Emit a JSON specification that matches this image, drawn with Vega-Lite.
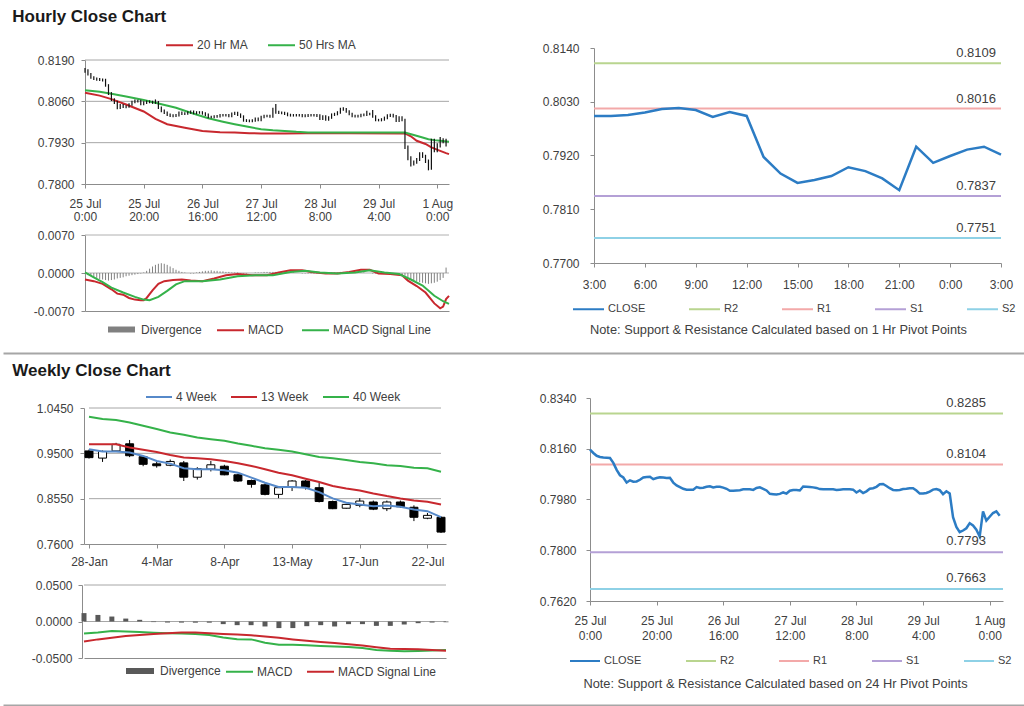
{
"$schema": "https://vega.github.io/schema/vega-lite/v6.json",
"background": "white",
"padding": {"top": 8, "left": 0, "right": 0, "bottom": 2},
"spacing": 9,
"config": {
  "view": {"stroke": null},
  "font": "Liberation Sans",
  "axis": {"labelFont": "Liberation Sans", "labelFontSize": 12, "labelColor": "#404040", "domainColor": "#8c8c8c", "tickColor": "#8c8c8c", "grid": false, "tickSize": 4, "labelFlush": false, "labelOverlap": false, "titleFont": "Liberation Sans"},
  "legend": {"labelFont": "Liberation Sans", "labelFontSize": 12, "labelColor": "#404040", "padding": 0, "labelOffset": 3, "symbolType": "stroke", "symbolStrokeWidth": 2}
},
"datasets": {
  "hourly": [
    {"i":0,"c":0.8157,"h":0.8165,"l":0.8150,"d":-0.0002},
    {"i":1,"c":0.8145,"h":0.8161,"l":0.8141,"d":-0.0004},
    {"i":2,"c":0.8135,"h":0.8149,"l":0.8131,"d":-0.0006},
    {"i":3,"c":0.8131,"h":0.8139,"l":0.8127,"d":-0.0008},
    {"i":4,"c":0.8129,"h":0.8135,"l":0.8125,"d":-0.0009},
    {"i":5,"c":0.8128,"h":0.8133,"l":0.8124,"d":-0.0011},
    {"i":6,"c":0.8127,"h":0.8132,"l":0.8122,"d":-0.0012},
    {"i":7,"c":0.8110,"h":0.8131,"l":0.8106,"d":-0.0013},
    {"i":8,"c":0.8085,"h":0.8114,"l":0.8080,"d":-0.0014},
    {"i":9,"c":0.8066,"h":0.8089,"l":0.8061,"d":-0.0013},
    {"i":10,"c":0.8058,"h":0.8070,"l":0.8052,"d":-0.0012},
    {"i":11,"c":0.8040,"h":0.8062,"l":0.8035,"d":-0.0010},
    {"i":12,"c":0.8048,"h":0.8052,"l":0.8036,"d":-0.0009},
    {"i":13,"c":0.8043,"h":0.8052,"l":0.8039,"d":-0.0008},
    {"i":14,"c":0.8044,"h":0.8048,"l":0.8038,"d":-0.0006},
    {"i":15,"c":0.8050,"h":0.8054,"l":0.8040,"d":-0.0005},
    {"i":16,"c":0.8058,"h":0.8062,"l":0.8046,"d":-0.0004},
    {"i":17,"c":0.8060,"h":0.8066,"l":0.8054,"d":-0.0003},
    {"i":18,"c":0.8061,"h":0.8065,"l":0.8056,"d":-0.0002},
    {"i":19,"c":0.8052,"h":0.8065,"l":0.8048,"d":-0.0001},
    {"i":20,"c":0.8056,"h":0.8060,"l":0.8048,"d":0.0001},
    {"i":21,"c":0.8059,"h":0.8063,"l":0.8052,"d":0.0004},
    {"i":22,"c":0.8058,"h":0.8063,"l":0.8054,"d":0.0008},
    {"i":23,"c":0.8056,"h":0.8062,"l":0.8052,"d":0.0012},
    {"i":24,"c":0.8057,"h":0.8066,"l":0.8052,"d":0.0015},
    {"i":25,"c":0.8040,"h":0.8061,"l":0.8036,"d":0.0017},
    {"i":26,"c":0.8030,"h":0.8044,"l":0.8026,"d":0.0018},
    {"i":27,"c":0.8024,"h":0.8034,"l":0.8020,"d":0.0017},
    {"i":28,"c":0.8018,"h":0.8028,"l":0.8014,"d":0.0015},
    {"i":29,"c":0.8015,"h":0.8022,"l":0.8011,"d":0.0012},
    {"i":30,"c":0.8015,"h":0.8019,"l":0.8010,"d":0.0009},
    {"i":31,"c":0.8015,"h":0.8020,"l":0.8011,"d":0.0006},
    {"i":32,"c":0.8024,"h":0.8028,"l":0.8012,"d":0.0004},
    {"i":33,"c":0.8021,"h":0.8028,"l":0.8017,"d":0.0002},
    {"i":34,"c":0.8022,"h":0.8026,"l":0.8017,"d":0.0001},
    {"i":35,"c":0.8025,"h":0.8029,"l":0.8018,"d":0.0000},
    {"i":36,"c":0.8027,"h":0.8031,"l":0.8021,"d":-0.0001},
    {"i":37,"c":0.8023,"h":0.8031,"l":0.8019,"d":-0.0001},
    {"i":38,"c":0.8025,"h":0.8029,"l":0.8019,"d":0.0001},
    {"i":39,"c":0.8025,"h":0.8029,"l":0.8021,"d":0.0002},
    {"i":40,"c":0.8022,"h":0.8029,"l":0.8018,"d":0.0003},
    {"i":41,"c":0.8018,"h":0.8026,"l":0.8014,"d":0.0004},
    {"i":42,"c":0.8011,"h":0.8022,"l":0.8007,"d":0.0004},
    {"i":43,"c":0.8011,"h":0.8015,"l":0.8007,"d":0.0005},
    {"i":44,"c":0.8012,"h":0.8016,"l":0.8007,"d":0.0004},
    {"i":45,"c":0.8013,"h":0.8017,"l":0.8008,"d":0.0004},
    {"i":46,"c":0.8016,"h":0.8020,"l":0.8009,"d":0.0003},
    {"i":47,"c":0.8016,"h":0.8020,"l":0.8012,"d":0.0003},
    {"i":48,"c":0.8016,"h":0.8020,"l":0.8012,"d":0.0002},
    {"i":49,"c":0.8014,"h":0.8020,"l":0.8010,"d":0.0002},
    {"i":50,"c":0.8021,"h":0.8025,"l":0.8010,"d":0.0001},
    {"i":51,"c":0.8023,"h":0.8027,"l":0.8017,"d":0.0001},
    {"i":52,"c":0.8018,"h":0.8027,"l":0.8014,"d":0.0001},
    {"i":53,"c":0.8012,"h":0.8022,"l":0.8008,"d":-0.0001},
    {"i":54,"c":0.8000,"h":0.8016,"l":0.7996,"d":-0.0001},
    {"i":55,"c":0.7999,"h":0.8004,"l":0.7995,"d":-0.0001},
    {"i":56,"c":0.7998,"h":0.8003,"l":0.7994,"d":0.0000},
    {"i":57,"c":0.8000,"h":0.8004,"l":0.7994,"d":0.0000},
    {"i":58,"c":0.8005,"h":0.8009,"l":0.7996,"d":0.0001},
    {"i":59,"c":0.8001,"h":0.8009,"l":0.7997,"d":0.0001},
    {"i":60,"c":0.8011,"h":0.8015,"l":0.7997,"d":0.0001},
    {"i":61,"c":0.8014,"h":0.8018,"l":0.8007,"d":0.0002},
    {"i":62,"c":0.8014,"h":0.8018,"l":0.8010,"d":0.0002},
    {"i":63,"c":0.8012,"h":0.8018,"l":0.8008,"d":0.0002},
    {"i":64,"c":0.8026,"h":0.8040,"l":0.8008,"d":0.0002},
    {"i":65,"c":0.8025,"h":0.8052,"l":0.8021,"d":0.0002},
    {"i":66,"c":0.8024,"h":0.8030,"l":0.8020,"d":0.0002},
    {"i":67,"c":0.8023,"h":0.8028,"l":0.8019,"d":0.0001},
    {"i":68,"c":0.8021,"h":0.8027,"l":0.8017,"d":0.0001},
    {"i":69,"c":0.8017,"h":0.8025,"l":0.8013,"d":0.0001},
    {"i":70,"c":0.8016,"h":0.8021,"l":0.8012,"d":0.0001},
    {"i":71,"c":0.8016,"h":0.8020,"l":0.8012,"d":0.0001},
    {"i":72,"c":0.8016,"h":0.8020,"l":0.8012,"d":0.0000},
    {"i":73,"c":0.8016,"h":0.8020,"l":0.8012,"d":0.0000},
    {"i":74,"c":0.8014,"h":0.8020,"l":0.8010,"d":-0.0001},
    {"i":75,"c":0.8015,"h":0.8019,"l":0.8010,"d":-0.0001},
    {"i":76,"c":0.8016,"h":0.8020,"l":0.8011,"d":-0.0001},
    {"i":77,"c":0.8016,"h":0.8020,"l":0.8012,"d":-0.0001},
    {"i":78,"c":0.8016,"h":0.8020,"l":0.8012,"d":-0.0001},
    {"i":79,"c":0.8015,"h":0.8020,"l":0.8011,"d":-0.0001},
    {"i":80,"c":0.8005,"h":0.8019,"l":0.8001,"d":-0.0001},
    {"i":81,"c":0.8012,"h":0.8016,"l":0.8001,"d":0.0000},
    {"i":82,"c":0.8003,"h":0.8016,"l":0.7999,"d":0.0000},
    {"i":83,"c":0.8009,"h":0.8013,"l":0.7999,"d":0.0001},
    {"i":84,"c":0.8018,"h":0.8022,"l":0.8005,"d":0.0001},
    {"i":85,"c":0.8020,"h":0.8024,"l":0.8014,"d":0.0001},
    {"i":86,"c":0.8025,"h":0.8029,"l":0.8016,"d":0.0001},
    {"i":87,"c":0.8034,"h":0.8040,"l":0.8021,"d":0.0002},
    {"i":88,"c":0.8035,"h":0.8041,"l":0.8030,"d":0.0002},
    {"i":89,"c":0.8028,"h":0.8039,"l":0.8024,"d":0.0001},
    {"i":90,"c":0.8020,"h":0.8032,"l":0.8016,"d":0.0001},
    {"i":91,"c":0.8014,"h":0.8024,"l":0.8010,"d":0.0000},
    {"i":92,"c":0.8013,"h":0.8018,"l":0.8009,"d":0.0000},
    {"i":93,"c":0.8014,"h":0.8018,"l":0.8009,"d":0.0000},
    {"i":94,"c":0.8017,"h":0.8021,"l":0.8010,"d":0.0001},
    {"i":95,"c":0.8018,"h":0.8022,"l":0.8013,"d":0.0001},
    {"i":96,"c":0.8020,"h":0.8030,"l":0.8014,"d":0.0000},
    {"i":97,"c":0.8020,"h":0.8024,"l":0.8016,"d":0.0000},
    {"i":98,"c":0.8012,"h":0.8033,"l":0.8008,"d":-0.0001},
    {"i":99,"c":0.8001,"h":0.8016,"l":0.7997,"d":-0.0001},
    {"i":100,"c":0.8001,"h":0.8005,"l":0.7997,"d":-0.0001},
    {"i":101,"c":0.8003,"h":0.8007,"l":0.7997,"d":-0.0001},
    {"i":102,"c":0.8008,"h":0.8012,"l":0.7999,"d":-0.0001},
    {"i":103,"c":0.8015,"h":0.8019,"l":0.8004,"d":0.0000},
    {"i":104,"c":0.8017,"h":0.8021,"l":0.8011,"d":-0.0001},
    {"i":105,"c":0.8013,"h":0.8021,"l":0.8009,"d":-0.0001},
    {"i":106,"c":0.7999,"h":0.8017,"l":0.7995,"d":-0.0001},
    {"i":107,"c":0.8009,"h":0.8013,"l":0.7995,"d":-0.0002},
    {"i":108,"c":0.8001,"h":0.8013,"l":0.7997,"d":-0.0003},
    {"i":109,"c":0.7917,"h":0.8005,"l":0.7910,"d":-0.0005},
    {"i":110,"c":0.7883,"h":0.7921,"l":0.7875,"d":-0.0008},
    {"i":111,"c":0.7864,"h":0.7887,"l":0.7855,"d":-0.0011},
    {"i":112,"c":0.7870,"h":0.7874,"l":0.7858,"d":-0.0013},
    {"i":113,"c":0.7878,"h":0.7882,"l":0.7864,"d":-0.0015},
    {"i":114,"c":0.7896,"h":0.7900,"l":0.7872,"d":-0.0017},
    {"i":115,"c":0.7888,"h":0.7900,"l":0.7882,"d":-0.0018},
    {"i":116,"c":0.7873,"h":0.7892,"l":0.7866,"d":-0.0019},
    {"i":117,"c":0.7849,"h":0.7877,"l":0.7843,"d":-0.0020},
    {"i":118,"c":0.7938,"h":0.7942,"l":0.7845,"d":-0.0019},
    {"i":119,"c":0.7905,"h":0.7942,"l":0.7900,"d":-0.0018},
    {"i":120,"c":0.7919,"h":0.7928,"l":0.7900,"d":-0.0016},
    {"i":121,"c":0.7932,"h":0.7948,"l":0.7915,"d":-0.0013},
    {"i":122,"c":0.7938,"h":0.7944,"l":0.7928,"d":-0.0009},
    {"i":123,"c":0.7922,"h":0.7942,"l":0.7918,"d":0.0010}
  ],
  "hma": [
    {"s":"20 Hr MA","i":0,"v":0.8087},{"s":"20 Hr MA","i":5,"v":0.8078},{"s":"20 Hr MA","i":9,"v":0.8067},{"s":"20 Hr MA","i":14,"v":0.8050},{"s":"20 Hr MA","i":20,"v":0.8028},{"s":"20 Hr MA","i":24,"v":0.8005},{"s":"20 Hr MA","i":28,"v":0.7988},{"s":"20 Hr MA","i":34,"v":0.7977},{"s":"20 Hr MA","i":40,"v":0.7967},{"s":"20 Hr MA","i":46,"v":0.7963},{"s":"20 Hr MA","i":51,"v":0.7962},{"s":"20 Hr MA","i":56,"v":0.7960},{"s":"20 Hr MA","i":60,"v":0.7959},{"s":"20 Hr MA","i":68,"v":0.7959},{"s":"20 Hr MA","i":75,"v":0.7960},{"s":"20 Hr MA","i":90,"v":0.7960},{"s":"20 Hr MA","i":109,"v":0.7959},{"s":"20 Hr MA","i":111,"v":0.7950},{"s":"20 Hr MA","i":113,"v":0.7936},{"s":"20 Hr MA","i":116,"v":0.7926},{"s":"20 Hr MA","i":118,"v":0.7915},{"s":"20 Hr MA","i":121,"v":0.7904},{"s":"20 Hr MA","i":123,"v":0.7897},{"s":"20 Hr MA","i":124,"v":0.7894},
    {"s":"50 Hrs MA","i":0,"v":0.8095},{"s":"50 Hrs MA","i":5,"v":0.8090},{"s":"50 Hrs MA","i":9,"v":0.8084},{"s":"50 Hrs MA","i":14,"v":0.8075},{"s":"50 Hrs MA","i":20,"v":0.8064},{"s":"50 Hrs MA","i":25,"v":0.8053},{"s":"50 Hrs MA","i":31,"v":0.8040},{"s":"50 Hrs MA","i":36,"v":0.8024},{"s":"50 Hrs MA","i":42,"v":0.8007},{"s":"50 Hrs MA","i":47,"v":0.7996},{"s":"50 Hrs MA","i":51,"v":0.7988},{"s":"50 Hrs MA","i":56,"v":0.7979},{"s":"50 Hrs MA","i":60,"v":0.7972},{"s":"50 Hrs MA","i":64,"v":0.7969},{"s":"50 Hrs MA","i":68,"v":0.7967},{"s":"50 Hrs MA","i":72,"v":0.7964},{"s":"50 Hrs MA","i":76,"v":0.7962},{"s":"50 Hrs MA","i":109,"v":0.7962},{"s":"50 Hrs MA","i":112,"v":0.7954},{"s":"50 Hrs MA","i":115,"v":0.7946},{"s":"50 Hrs MA","i":117,"v":0.7941},{"s":"50 Hrs MA","i":119,"v":0.7938},{"s":"50 Hrs MA","i":121,"v":0.7936},{"s":"50 Hrs MA","i":124,"v":0.7933}
  ],
  "hmacd": [
    {"s":"MACD","i":0,"v":-0.0012},{"s":"MACD","i":3,"v":-0.0015},{"s":"MACD","i":6,"v":-0.0020},{"s":"MACD","i":9,"v":-0.0030},{"s":"MACD","i":11,"v":-0.0038},{"s":"MACD","i":13,"v":-0.0040},{"s":"MACD","i":15,"v":-0.0046},{"s":"MACD","i":17,"v":-0.0049},{"s":"MACD","i":19,"v":-0.0050},{"s":"MACD","i":20,"v":-0.0050},{"s":"MACD","i":21,"v":-0.0046},{"s":"MACD","i":23,"v":-0.0032},{"s":"MACD","i":25,"v":-0.0020},{"s":"MACD","i":27,"v":-0.0015},{"s":"MACD","i":30,"v":-0.0013},{"s":"MACD","i":33,"v":-0.0012},{"s":"MACD","i":36,"v":-0.0014},{"s":"MACD","i":40,"v":-0.0015},{"s":"MACD","i":44,"v":-0.0010},{"s":"MACD","i":48,"v":-0.0004},{"s":"MACD","i":52,"v":-0.0002},{"s":"MACD","i":57,"v":-0.0004},{"s":"MACD","i":62,"v":-0.0004},{"s":"MACD","i":66,"v":0.0001},{"s":"MACD","i":70,"v":0.0005},{"s":"MACD","i":74,"v":0.0005},{"s":"MACD","i":77,"v":0.0002},{"s":"MACD","i":82,"v":-0.0001},{"s":"MACD","i":86,"v":-0.0001},{"s":"MACD","i":90,"v":0.0002},{"s":"MACD","i":94,"v":0.0006},{"s":"MACD","i":97,"v":0.0006},{"s":"MACD","i":100,"v":-0.0001},{"s":"MACD","i":104,"v":-0.0002},{"s":"MACD","i":108,"v":-0.0004},{"s":"MACD","i":110,"v":-0.0014},{"s":"MACD","i":113,"v":-0.0024},{"s":"MACD","i":116,"v":-0.0036},{"s":"MACD","i":119,"v":-0.0056},{"s":"MACD","i":121,"v":-0.0065},{"s":"MACD","i":122,"v":-0.0062},{"s":"MACD","i":123,"v":-0.0048},{"s":"MACD","i":124,"v":-0.0042},
    {"s":"MACD Signal Line","i":0,"v":0.0001},{"s":"MACD Signal Line","i":3,"v":-0.0008},{"s":"MACD Signal Line","i":6,"v":-0.0017},{"s":"MACD Signal Line","i":9,"v":-0.0027},{"s":"MACD Signal Line","i":13,"v":-0.0036},{"s":"MACD Signal Line","i":17,"v":-0.0044},{"s":"MACD Signal Line","i":20,"v":-0.0049},{"s":"MACD Signal Line","i":22,"v":-0.0050},{"s":"MACD Signal Line","i":25,"v":-0.0044},{"s":"MACD Signal Line","i":28,"v":-0.0033},{"s":"MACD Signal Line","i":31,"v":-0.0021},{"s":"MACD Signal Line","i":34,"v":-0.0015},{"s":"MACD Signal Line","i":40,"v":-0.0015},{"s":"MACD Signal Line","i":46,"v":-0.0012},{"s":"MACD Signal Line","i":52,"v":-0.0006},{"s":"MACD Signal Line","i":58,"v":-0.0004},{"s":"MACD Signal Line","i":64,"v":-0.0004},{"s":"MACD Signal Line","i":70,"v":0.0002},{"s":"MACD Signal Line","i":75,"v":0.0004},{"s":"MACD Signal Line","i":80,"v":0.0001},{"s":"MACD Signal Line","i":86,"v":-0.0001},{"s":"MACD Signal Line","i":92,"v":0.0001},{"s":"MACD Signal Line","i":97,"v":0.0005},{"s":"MACD Signal Line","i":102,"v":0.0001},{"s":"MACD Signal Line","i":107,"v":-0.0002},{"s":"MACD Signal Line","i":111,"v":-0.0012},{"s":"MACD Signal Line","i":115,"v":-0.0023},{"s":"MACD Signal Line","i":119,"v":-0.0042},{"s":"MACD Signal Line","i":122,"v":-0.0052},{"s":"MACD Signal Line","i":124,"v":-0.0057}
  ],
  "piv1": [{"s":"R2","v":0.8109},{"s":"R1","v":0.8016},{"s":"S1","v":0.7837},{"s":"S2","v":0.7751}],
  "piv24": [{"s":"R2","v":0.8285},{"s":"R1","v":0.8104},{"s":"S1","v":0.7793},{"s":"S2","v":0.7663}],
  "weekly": [
    {"k":0,"o":0.955,"h":0.958,"l":0.939,"c":0.941,"d":0.0115},
    {"k":1,"o":0.940,"h":0.956,"l":0.932,"c":0.954,"d":0.0090},
    {"k":2,"o":0.955,"h":0.972,"l":0.953,"c":0.969,"d":0.0068},
    {"k":3,"o":0.970,"h":0.978,"l":0.942,"c":0.945,"d":0.0040},
    {"k":4,"o":0.943,"h":0.945,"l":0.923,"c":0.927,"d":0.0023},
    {"k":5,"o":0.928,"h":0.932,"l":0.920,"c":0.924,"d":-0.0008},
    {"k":6,"o":0.925,"h":0.937,"l":0.923,"c":0.933,"d":-0.0014},
    {"k":7,"o":0.930,"h":0.934,"l":0.892,"c":0.900,"d":-0.0015},
    {"k":8,"o":0.900,"h":0.921,"l":0.895,"c":0.918,"d":-0.0016},
    {"k":9,"o":0.917,"h":0.934,"l":0.912,"c":0.926,"d":-0.0016},
    {"k":10,"o":0.923,"h":0.926,"l":0.904,"c":0.905,"d":-0.0036},
    {"k":11,"o":0.905,"h":0.907,"l":0.890,"c":0.892,"d":-0.0050},
    {"k":12,"o":0.893,"h":0.895,"l":0.878,"c":0.885,"d":-0.0050},
    {"k":13,"o":0.884,"h":0.887,"l":0.862,"c":0.864,"d":-0.0068},
    {"k":14,"o":0.864,"h":0.880,"l":0.856,"c":0.878,"d":-0.0090},
    {"k":15,"o":0.879,"h":0.894,"l":0.871,"c":0.892,"d":-0.0090},
    {"k":16,"o":0.892,"h":0.894,"l":0.874,"c":0.879,"d":-0.0064},
    {"k":17,"o":0.878,"h":0.888,"l":0.847,"c":0.849,"d":-0.0050},
    {"k":18,"o":0.849,"h":0.851,"l":0.833,"c":0.834,"d":-0.0068},
    {"k":19,"o":0.835,"h":0.844,"l":0.834,"c":0.843,"d":-0.0036},
    {"k":20,"o":0.841,"h":0.856,"l":0.837,"c":0.850,"d":-0.0036},
    {"k":21,"o":0.848,"h":0.851,"l":0.831,"c":0.833,"d":-0.0060},
    {"k":22,"o":0.834,"h":0.851,"l":0.829,"c":0.848,"d":-0.0060},
    {"k":23,"o":0.848,"h":0.851,"l":0.836,"c":0.838,"d":-0.0041},
    {"k":24,"o":0.837,"h":0.841,"l":0.808,"c":0.816,"d":-0.0023},
    {"k":25,"o":0.814,"h":0.825,"l":0.812,"c":0.820,"d":-0.0014},
    {"k":26,"o":0.816,"h":0.818,"l":0.783,"c":0.785,"d":-0.0010}
  ],
  "wma": [
    {"s":"4 Week","k":0,"v":0.9587},{"s":"4 Week","k":1,"v":0.9537},{"s":"4 Week","k":2,"v":0.9537},{"s":"4 Week","k":3,"v":0.9516},{"s":"4 Week","k":4,"v":0.9446},{"s":"4 Week","k":5,"v":0.9340},{"s":"4 Week","k":6,"v":0.9285},{"s":"4 Week","k":7,"v":0.9186},{"s":"4 Week","k":8,"v":0.9165},{"s":"4 Week","k":9,"v":0.9165},{"s":"4 Week","k":10,"v":0.9144},{"s":"4 Week","k":11,"v":0.9095},{"s":"4 Week","k":12,"v":0.8990},{"s":"4 Week","k":13,"v":0.8884},{"s":"4 Week","k":14,"v":0.8793},{"s":"4 Week","k":15,"v":0.8793},{"s":"4 Week","k":16,"v":0.8780},{"s":"4 Week","k":17,"v":0.8688},{"s":"4 Week","k":18,"v":0.8555},{"s":"4 Week","k":19,"v":0.8463},{"s":"4 Week","k":20,"v":0.8430},{"s":"4 Week","k":21,"v":0.8390},{"s":"4 Week","k":22,"v":0.8407},{"s":"4 Week","k":23,"v":0.8380},{"s":"4 Week","k":24,"v":0.8323},{"s":"4 Week","k":25,"v":0.8288},{"s":"4 Week","k":26,"v":0.8162},
    {"s":"13 Week","k":0,"v":0.9692},{"s":"13 Week","k":1,"v":0.9692},{"s":"13 Week","k":2,"v":0.9692},{"s":"13 Week","k":3,"v":0.9622},{"s":"13 Week","k":4,"v":0.9573},{"s":"13 Week","k":5,"v":0.9530},{"s":"13 Week","k":6,"v":0.9467},{"s":"13 Week","k":7,"v":0.9411},{"s":"13 Week","k":8,"v":0.9397},{"s":"13 Week","k":9,"v":0.9375},{"s":"13 Week","k":10,"v":0.9340},{"s":"13 Week","k":11,"v":0.9292},{"s":"13 Week","k":12,"v":0.9236},{"s":"13 Week","k":13,"v":0.9165},{"s":"13 Week","k":14,"v":0.9095},{"s":"13 Week","k":15,"v":0.9039},{"s":"13 Week","k":16,"v":0.8969},{"s":"13 Week","k":17,"v":0.8899},{"s":"13 Week","k":18,"v":0.8814},{"s":"13 Week","k":19,"v":0.8765},{"s":"13 Week","k":20,"v":0.8723},{"s":"13 Week","k":21,"v":0.8660},{"s":"13 Week","k":22,"v":0.8604},{"s":"13 Week","k":23,"v":0.8555},{"s":"13 Week","k":24,"v":0.8513},{"s":"13 Week","k":25,"v":0.8484},{"s":"13 Week","k":26,"v":0.8428},
    {"s":"40 Week","k":0,"v":1.0267},{"s":"40 Week","k":1,"v":1.0218},{"s":"40 Week","k":2,"v":1.0197},{"s":"40 Week","k":3,"v":1.0148},{"s":"40 Week","k":4,"v":1.0078},{"s":"40 Week","k":5,"v":1.0008},{"s":"40 Week","k":6,"v":0.9937},{"s":"40 Week","k":7,"v":0.9888},{"s":"40 Week","k":8,"v":0.9832},{"s":"40 Week","k":9,"v":0.9797},{"s":"40 Week","k":10,"v":0.9762},{"s":"40 Week","k":11,"v":0.9706},{"s":"40 Week","k":12,"v":0.9657},{"s":"40 Week","k":13,"v":0.9607},{"s":"40 Week","k":14,"v":0.9573},{"s":"40 Week","k":15,"v":0.9537},{"s":"40 Week","k":16,"v":0.9481},{"s":"40 Week","k":17,"v":0.9425},{"s":"40 Week","k":18,"v":0.9397},{"s":"40 Week","k":19,"v":0.9362},{"s":"40 Week","k":20,"v":0.9320},{"s":"40 Week","k":21,"v":0.9292},{"s":"40 Week","k":22,"v":0.9250},{"s":"40 Week","k":23,"v":0.9236},{"s":"40 Week","k":24,"v":0.9200},{"s":"40 Week","k":25,"v":0.9186},{"s":"40 Week","k":26,"v":0.9116}
  ],
  "wmacd": [
    {"s":"MACD","k":0,"v":-0.0165},{"s":"MACD","k":1,"v":-0.0150},{"s":"MACD","k":2,"v":-0.0130},{"s":"MACD","k":3,"v":-0.0138},{"s":"MACD","k":4,"v":-0.0145},{"s":"MACD","k":5,"v":-0.0155},{"s":"MACD","k":6,"v":-0.0162},{"s":"MACD","k":7,"v":-0.0165},{"s":"MACD","k":8,"v":-0.0172},{"s":"MACD","k":9,"v":-0.0185},{"s":"MACD","k":10,"v":-0.0220},{"s":"MACD","k":11,"v":-0.0242},{"s":"MACD","k":12,"v":-0.0245},{"s":"MACD","k":13,"v":-0.0290},{"s":"MACD","k":14,"v":-0.0318},{"s":"MACD","k":15,"v":-0.0318},{"s":"MACD","k":16,"v":-0.0326},{"s":"MACD","k":17,"v":-0.0336},{"s":"MACD","k":18,"v":-0.0342},{"s":"MACD","k":19,"v":-0.0350},{"s":"MACD","k":20,"v":-0.0362},{"s":"MACD","k":21,"v":-0.0390},{"s":"MACD","k":22,"v":-0.0402},{"s":"MACD","k":23,"v":-0.0408},{"s":"MACD","k":24,"v":-0.0405},{"s":"MACD","k":25,"v":-0.0398},{"s":"MACD","k":26,"v":-0.0392},
    {"s":"MACD Signal Line","k":0,"v":-0.0275},{"s":"MACD Signal Line","k":1,"v":-0.0245},{"s":"MACD Signal Line","k":2,"v":-0.0222},{"s":"MACD Signal Line","k":3,"v":-0.0200},{"s":"MACD Signal Line","k":4,"v":-0.0186},{"s":"MACD Signal Line","k":5,"v":-0.0172},{"s":"MACD Signal Line","k":6,"v":-0.0160},{"s":"MACD Signal Line","k":7,"v":-0.0152},{"s":"MACD Signal Line","k":8,"v":-0.0152},{"s":"MACD Signal Line","k":9,"v":-0.0160},{"s":"MACD Signal Line","k":10,"v":-0.0170},{"s":"MACD Signal Line","k":11,"v":-0.0178},{"s":"MACD Signal Line","k":12,"v":-0.0190},{"s":"MACD Signal Line","k":13,"v":-0.0205},{"s":"MACD Signal Line","k":14,"v":-0.0222},{"s":"MACD Signal Line","k":15,"v":-0.0245},{"s":"MACD Signal Line","k":16,"v":-0.0265},{"s":"MACD Signal Line","k":17,"v":-0.0282},{"s":"MACD Signal Line","k":18,"v":-0.0296},{"s":"MACD Signal Line","k":19,"v":-0.0312},{"s":"MACD Signal Line","k":20,"v":-0.0330},{"s":"MACD Signal Line","k":21,"v":-0.0352},{"s":"MACD Signal Line","k":22,"v":-0.0372},{"s":"MACD Signal Line","k":23,"v":-0.0378},{"s":"MACD Signal Line","k":24,"v":-0.0380},{"s":"MACD Signal Line","k":25,"v":-0.0390},{"s":"MACD Signal Line","k":26,"v":-0.0400}
  ]
},
"vconcat": [
 {
  "title": {"text": "Hourly Close Chart", "anchor": "start", "dx": 12, "fontSize": 17, "fontWeight": "bold", "font": "Liberation Sans", "color": "#1a1a1a", "offset": 3},
  "width": 1024, "height": 324,
  "resolve": {"scale": {"x": "independent", "y": "independent", "color": "independent", "stroke": "independent"}, "axis": {"x": "independent", "y": "independent"}, "legend": {"color": "independent", "stroke": "independent"}},
  "layer": [
   {"layer": [
     {"data": {"values": [{"g":0.793},{"g":0.806},{"g":0.819}]},
      "mark": {"type": "rule", "color": "#a6a6a6", "strokeWidth": 1},
      "encoding": {
        "x": {"datum": 0, "type": "quantitative", "scale": {"domain": [0,124], "range": [82,446]},
              "axis": {"orient": "bottom", "offset": -169, "values": [0,20,40,60,80,100,120], "labelExpr": "[['25 Jul','0:00'],['25 Jul','20:00'],['26 Jul','16:00'],['27 Jul','12:00'],['28 Jul','8:00'],['29 Jul','4:00'],['1 Aug','0:00']][datum.value/20]", "labelLineHeight": 13.5, "labelPadding": 10, "title": null}},
        "x2": {"datum": 124},
        "y": {"field": "g", "type": "quantitative", "scale": {"domain": [0.78,0.819], "range": [155,31]},
              "axis": {"orient": "left", "offset": -82, "values": [0.78,0.793,0.806,0.819], "format": ".4f", "labelPadding": 7, "title": null}}
      }},
     {"data": {"name": "hma"},
      "mark": {"type": "line", "strokeWidth": 2},
      "encoding": {
        "x": {"field": "i", "type": "quantitative", "scale": {"domain": [0,124], "range": [82,446]}},
        "y": {"field": "v", "type": "quantitative", "scale": {"domain": [0.78,0.819], "range": [155,31]}},
        "color": {"field": "s", "type": "nominal", "scale": {"domain": ["20 Hr MA","50 Hrs MA"], "range": ["#c8282e","#35b24a"]},
                  "legend": {"orient": "none", "legendX": 162, "legendY": 1.5, "direction": "horizontal", "symbolSize": 729, "columnPadding": 16, "title": null}}
      }},
     {"data": {"name": "hourly"},
      "mark": {"type": "rule", "color": "#111111", "strokeWidth": 1.2},
      "encoding": {
        "x": {"field": "i", "type": "quantitative", "scale": {"domain": [0,124], "range": [82,446]}},
        "y": {"field": "l", "type": "quantitative", "scale": {"domain": [0.78,0.819], "range": [155,31]}},
        "y2": {"field": "h"}
      }}
   ]},
   {"layer": [
     {"data": {"values": [{"g":0},{"g":0.007}]},
      "mark": {"type": "rule", "color": "#b0b0b0", "strokeWidth": 1},
      "encoding": {
        "x": {"datum": 0, "type": "quantitative", "scale": {"domain": [0,124], "range": [82,446]},
              "axis": {"orient": "bottom", "offset": -42, "labels": false, "ticks": false, "title": null}},
        "x2": {"datum": 124},
        "y": {"field": "g", "type": "quantitative", "scale": {"domain": [-0.007,0.007], "range": [282,206]},
              "axis": {"orient": "left", "offset": -82, "values": [-0.007,0,0.007], "labelExpr": "datum.value<0?'-'+format(-datum.value,'.4f'):format(datum.value,'.4f')", "labelPadding": 7, "title": null}}
      }},
     {"data": {"name": "hourly"},
      "mark": {"type": "rule", "strokeWidth": 1},
      "encoding": {
        "x": {"field": "i", "type": "quantitative", "scale": {"domain": [0,124], "range": [82,446]}},
        "y": {"field": "d", "type": "quantitative", "scale": {"domain": [-0.007,0.007], "range": [282,206]}},
        "y2": {"datum": 0},
        "stroke": {"datum": "Divergence", "type": "nominal", "scale": {"domain": ["Divergence"], "range": ["#808080"]},
                   "legend": {"orient": "none", "legendX": 102, "legendY": 284, "direction": "horizontal", "symbolSize": 729, "symbolStrokeWidth": 6, "symbolStrokeColor": "#595959", "title": null}}
      }},
     {"data": {"name": "hmacd"},
      "mark": {"type": "line", "strokeWidth": 2},
      "encoding": {
        "x": {"field": "i", "type": "quantitative", "scale": {"domain": [0,124], "range": [82,446]}},
        "y": {"field": "v", "type": "quantitative", "scale": {"domain": [-0.007,0.007], "range": [282,206]}},
        "color": {"field": "s", "type": "nominal", "scale": {"domain": ["MACD","MACD Signal Line"], "range": ["#c8282e","#35b24a"]},
                  "legend": {"orient": "none", "legendX": 213, "legendY": 286.5, "direction": "horizontal", "symbolSize": 729, "columnPadding": 14, "title": null}}
      }}
   ]},
   {"layer": [
     {"data": {"name": "piv1"},
      "mark": {"type": "rule", "strokeWidth": 2},
      "encoding": {
        "x": {"datum": 99, "type": "quantitative", "scale": {"domain": [99,123], "range": [591,998]},
              "axis": {"orient": "bottom", "offset": -90, "values": [99,102,105,108,111,114,117,120,123], "labelExpr": "((datum.value-96)%24)+':00'", "labelPadding": 12,
                       "title": "Note: Support & Resistance Calculated based on 1 Hr Pivot Points", "titleX": 775, "titleY": 66, "titleAlign": "center", "titleBaseline": "middle", "titleFontSize": 12.8, "titleFontWeight": "normal", "titleColor": "#404040"}},
        "x2": {"datum": 123},
        "y": {"field": "v", "type": "quantitative", "scale": {"domain": [0.77,0.814], "range": [234,19]},
              "axis": {"orient": "left", "offset": -591, "values": [0.77,0.781,0.792,0.803,0.814], "format": ".4f", "labelPadding": 11, "title": null}},
        "color": {"field": "s", "type": "nominal", "scale": {"domain": ["CLOSE","R2","R1","S1","S2"], "range": ["#2c7cc4","#b9d58f","#f3a9a9","#b4a0d6","#8ed1e6"]},
                  "legend": {"orient": "none", "legendX": 569, "legendY": 263.5, "direction": "horizontal", "symbolSize": 961, "columnPadding": 39, "labelFontSize": 11, "title": null}}
      }},
     {"data": {"name": "hourly"},
      "transform": [{"filter": "datum.i >= 99"}],
      "mark": {"type": "line", "strokeWidth": 2.5},
      "encoding": {
        "x": {"field": "i", "type": "quantitative", "scale": {"domain": [99,123], "range": [591,998]}},
        "y": {"field": "c", "type": "quantitative", "scale": {"domain": [0.77,0.814], "range": [234,19]}},
        "color": {"datum": "CLOSE", "type": "nominal", "scale": {"domain": ["CLOSE","R2","R1","S1","S2"], "range": ["#2c7cc4","#b9d58f","#f3a9a9","#b4a0d6","#8ed1e6"]}}
      }},
     {"data": {"name": "piv1"},
      "mark": {"type": "text", "align": "right", "baseline": "middle", "dx": -5, "dy": -10, "fontSize": 13, "color": "#404040", "font": "Liberation Sans"},
      "encoding": {
        "x": {"datum": 123, "type": "quantitative", "scale": {"domain": [99,123], "range": [591,998]}},
        "y": {"field": "v", "type": "quantitative", "scale": {"domain": [0.77,0.814], "range": [234,19]}},
        "text": {"field": "v", "type": "quantitative", "format": ".4f"}
      }}
   ]},
   {"data": {"values": [{"z": 0}]},
    "mark": {"type": "point", "opacity": 0},
    "encoding": {
      "x": {"field": "z", "type": "quantitative", "scale": {"domain": [0,1], "range": [0,1024]},
            "axis": {"orient": "bottom", "offset": 0, "labels": false, "ticks": false, "domainColor": "#a6a6a6", "domainWidth": 2, "title": null}}
    }}
  ]
 },
 {
  "title": {"text": "Weekly Close Chart", "anchor": "start", "dx": 12, "fontSize": 17, "fontWeight": "bold", "font": "Liberation Sans", "color": "#1a1a1a", "offset": 3},
  "width": 1024, "height": 322,
  "resolve": {"scale": {"x": "independent", "y": "independent", "color": "independent", "stroke": "independent"}, "axis": {"x": "independent", "y": "independent"}, "legend": {"color": "independent", "stroke": "independent"}},
  "layer": [
   {"layer": [
     {"data": {"values": [{"g":0.855},{"g":0.95},{"g":1.045}]},
      "mark": {"type": "rule", "color": "#a6a6a6", "strokeWidth": 1},
      "encoding": {
        "x": {"datum": 0, "type": "quantitative", "scale": {"domain": [0,26], "range": [81,443]},
              "axis": {"orient": "bottom", "offset": -161, "values": [0,5,10,15,20,25], "labelExpr": "['28-Jan','4-Mar','8-Apr','13-May','17-Jun','22-Jul'][datum.value/5]", "labelPadding": 8, "title": null}},
        "x2": {"datum": 26},
        "y": {"field": "g", "type": "quantitative", "scale": {"domain": [0.76,1.045], "range": [161,25]},
              "axis": {"orient": "left", "offset": -81, "values": [0.76,0.855,0.95,1.045], "format": ".4f", "labelPadding": 7, "title": null}}
      }},
     {"data": {"name": "weekly"},
      "mark": {"type": "rule", "color": "#000000", "strokeWidth": 1},
      "encoding": {
        "x": {"field": "k", "type": "quantitative", "scale": {"domain": [0,26], "range": [81,443]}},
        "y": {"field": "l", "type": "quantitative", "scale": {"domain": [0.76,1.045], "range": [161,25]}},
        "y2": {"field": "h"}
      }},
     {"data": {"name": "weekly"},
      "mark": {"type": "bar", "width": 8, "stroke": "#000000", "strokeWidth": 1},
      "encoding": {
        "x": {"field": "k", "type": "quantitative", "scale": {"domain": [0,26], "range": [81,443]}},
        "y": {"field": "o", "type": "quantitative", "scale": {"domain": [0.76,1.045], "range": [161,25]}},
        "y2": {"field": "c"},
        "fill": {"condition": {"test": "datum.c < datum.o", "value": "#000000"}, "value": "#ffffff"}
      }},
     {"data": {"name": "wma"},
      "mark": {"type": "line", "strokeWidth": 2},
      "encoding": {
        "x": {"field": "k", "type": "quantitative", "scale": {"domain": [0,26], "range": [81,443]}},
        "y": {"field": "v", "type": "quantitative", "scale": {"domain": [0.76,1.045], "range": [161,25]}},
        "color": {"field": "s", "type": "nominal", "scale": {"domain": ["4 Week","13 Week","40 Week"], "range": ["#5689c9","#c8282e","#35b24a"]},
                  "legend": {"orient": "none", "legendX": 142, "legendY": 0, "direction": "horizontal", "symbolSize": 676, "columnPadding": 10, "title": null}}
      }}
   ]},
   {"layer": [
     {"data": {"values": [{"g":0},{"g":0.05}]},
      "mark": {"type": "rule", "color": "#a6a6a6", "strokeWidth": 1},
      "encoding": {
        "x": {"datum": 0, "type": "quantitative", "scale": {"domain": [0,26], "range": [81,443]},
              "axis": {"orient": "bottom", "offset": -47, "labels": false, "ticks": false, "title": null}},
        "x2": {"datum": 26},
        "y": {"field": "g", "type": "quantitative", "scale": {"domain": [-0.05,0.05], "range": [275,202]},
              "axis": {"orient": "left", "offset": -79, "values": [-0.05,0,0.05], "labelExpr": "datum.value<0?'-'+format(-datum.value,'.4f'):format(datum.value,'.4f')", "labelPadding": 6, "title": null}}
      }},
     {"data": {"name": "weekly"},
      "mark": {"type": "rule", "strokeWidth": 5},
      "encoding": {
        "x": {"field": "k", "type": "quantitative", "scale": {"domain": [0,26], "range": [81,443]}},
        "y": {"field": "d", "type": "quantitative", "scale": {"domain": [-0.05,0.05], "range": [275,202]}},
        "y2": {"datum": 0},
        "stroke": {"datum": "Divergence", "type": "nominal", "scale": {"domain": ["Divergence"], "range": ["#595959"]},
                   "legend": {"orient": "none", "legendX": 120, "legendY": 271, "direction": "horizontal", "symbolSize": 784, "symbolStrokeWidth": 6, "title": null}}
      }},
     {"data": {"name": "wmacd"},
      "mark": {"type": "line", "strokeWidth": 2},
      "encoding": {
        "x": {"field": "k", "type": "quantitative", "scale": {"domain": [0,26], "range": [81,443]}},
        "y": {"field": "v", "type": "quantitative", "scale": {"domain": [-0.05,0.05], "range": [275,202]}},
        "color": {"field": "s", "type": "nominal", "scale": {"domain": ["MACD","MACD Signal Line"], "range": ["#35b24a","#c8282e"]},
                  "legend": {"orient": "none", "legendX": 222, "legendY": 274, "direction": "horizontal", "symbolSize": 729, "columnPadding": 10, "title": null}}
      }}
   ]},
   {"layer": [
     {"data": {"name": "piv24"},
      "mark": {"type": "rule", "strokeWidth": 2},
      "encoding": {
        "x": {"datum": 0, "type": "quantitative", "scale": {"domain": [0,124], "range": [587,1000]},
              "axis": {"orient": "bottom", "offset": -104, "values": [0,20,40,60,80,100,120], "labelExpr": "[['25 Jul','0:00'],['25 Jul','20:00'],['26 Jul','16:00'],['27 Jul','12:00'],['28 Jul','8:00'],['29 Jul','4:00'],['1 Aug','0:00']][datum.value/20]", "labelLineHeight": 15, "labelPadding": 10,
                       "title": "Note: Support & Resistance Calculated based on 24 Hr Pivot Points", "titleX": 772, "titleY": 82, "titleAlign": "center", "titleBaseline": "middle", "titleFontSize": 12.8, "titleFontWeight": "normal", "titleColor": "#404040"}},
        "x2": {"datum": 124},
        "y": {"field": "v", "type": "quantitative", "scale": {"domain": [0.762,0.834], "range": [218,15]},
              "axis": {"orient": "left", "offset": -587, "values": [0.762,0.78,0.798,0.816,0.834], "format": ".4f", "labelPadding": 10, "title": null}},
        "color": {"field": "s", "type": "nominal", "scale": {"domain": ["CLOSE","R2","R1","S1","S2"], "range": ["#2c7cc4","#b9d58f","#f3a9a9","#b4a0d6","#8ed1e6"]},
                  "legend": {"orient": "none", "legendX": 566, "legendY": 262, "direction": "horizontal", "symbolSize": 900, "columnPadding": 40, "labelFontSize": 11, "title": null}}
      }},
     {"data": {"name": "hourly"},
      "mark": {"type": "line", "strokeWidth": 2.5},
      "encoding": {
        "x": {"field": "i", "type": "quantitative", "scale": {"domain": [0,124], "range": [587,1000]}},
        "y": {"field": "c", "type": "quantitative", "scale": {"domain": [0.762,0.834], "range": [218,15]}},
        "color": {"datum": "CLOSE", "type": "nominal", "scale": {"domain": ["CLOSE","R2","R1","S1","S2"], "range": ["#2c7cc4","#b9d58f","#f3a9a9","#b4a0d6","#8ed1e6"]}}
      }},
     {"data": {"name": "piv24"},
      "mark": {"type": "text", "align": "right", "baseline": "middle", "dx": -17, "dy": -11, "fontSize": 13, "color": "#404040", "font": "Liberation Sans"},
      "encoding": {
        "x": {"datum": 124, "type": "quantitative", "scale": {"domain": [0,124], "range": [587,1000]}},
        "y": {"field": "v", "type": "quantitative", "scale": {"domain": [0.762,0.834], "range": [218,15]}},
        "text": {"field": "v", "type": "quantitative", "format": ".4f"}
      }}
   ]},
   {"data": {"values": [{"z": 0}]},
    "mark": {"type": "point", "opacity": 0},
    "encoding": {
      "x": {"field": "z", "type": "quantitative", "scale": {"domain": [0,1], "range": [0,1024]},
            "axis": {"orient": "bottom", "offset": 0, "labels": false, "ticks": false, "domainColor": "#a6a6a6", "domainWidth": 2, "title": null}}
    }}
  ]
 }
]
}
